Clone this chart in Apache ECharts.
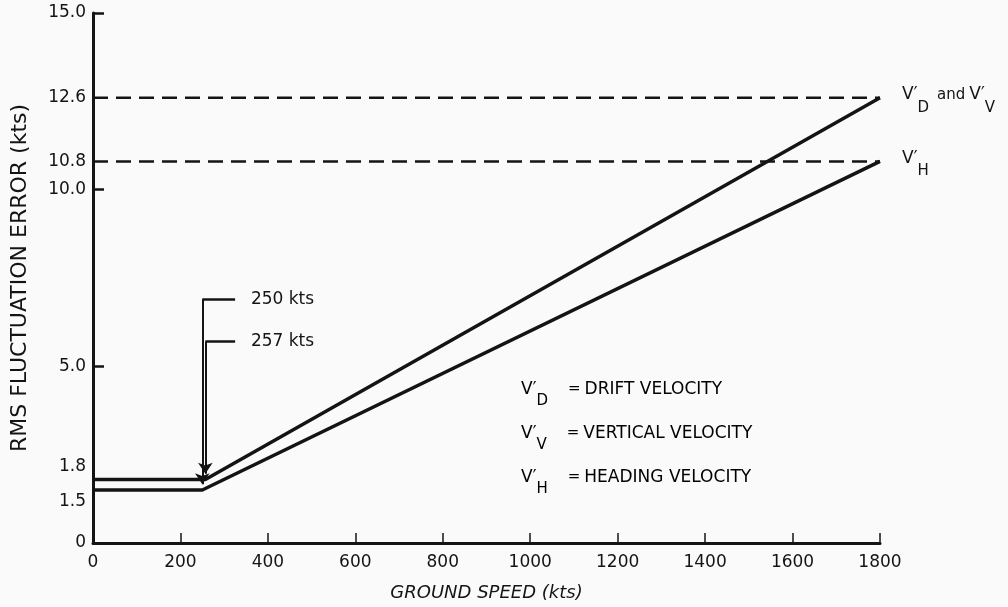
<!DOCTYPE html>
<html>
<head>
<meta charset="utf-8">
<script src="https://cdn.jsdelivr.net/npm/echarts@6/dist/echarts.min.js"></script>
<style>
  html, body { margin: 0; padding: 0; background: #fafafa; }
  #chart { width: 1008px; height: 607px; }
</style>
</head>
<body>
<div id="chart"></div>
<script>
// ---- data ----
const speedVH = [0, 250, 1800];          // kts
const errorVH = [1.5, 1.5, 10.8];        // kts
const speedVD = [0, 257, 1800];
const errorVD = [1.8, 1.8, 12.6];
const limitVD = 12.6;
const limitVH = 10.8;
const yLabelValues = [0, 1.5, 1.8, 5.0, 10.0, 10.8, 12.6, 15.0];
const yTickValues = [5.0, 10.0, 15.0];
const xMax = 1800;
const xStep = 200;
const breakpointLabels = ['250 kts', '257 kts'];
const breakpointSpeeds = [250, 257];
const breakpointErrors = [1.5, 1.8];
const bracketHeights = [6.9, 5.7];
const bracketArmEnd = 325;
const legendLines = [
  ['D', 'DRIFT VELOCITY'],
  ['V', 'VERTICAL VELOCITY'],
  ['H', 'HEADING VELOCITY']
];

const FONT = 'DejaVu Sans';
const INK = '#141414';

const pairs = (xs, ys) => xs.map((x, i) => [x, ys[i]]);

const armData = breakpointSpeeds.map((s, i) => ({
  coords: [[bracketArmEnd, bracketHeights[i]], [s, bracketHeights[i]]]
}));
const arrowData = breakpointSpeeds.map((s, i) => ({
  coords: [[s, bracketHeights[i]], [s, breakpointErrors[i] + 0.16]]
}));
const labelData = breakpointSpeeds.map((s, i) => [bracketArmEnd + 35, bracketHeights[i], breakpointLabels[i]]);

const endRich = {
  v: { fontFamily: FONT, fontSize: 17, color: INK },
  s: { fontFamily: FONT, fontSize: 15, color: INK, padding: [26, 0, 0, 0] },
  a: { fontFamily: FONT, fontSize: 15, color: INK, padding: [0, 4, 0, 8] }
};
const legendRich = {
  v: { fontFamily: FONT, fontSize: 17, color: INK },
  s: { fontFamily: FONT, fontSize: 15, color: INK, padding: [24, 0, 0, 0] },
  e: { fontFamily: FONT, fontSize: 15, color: INK, padding: [0, 4, 0, 20] },
  t: { fontFamily: FONT, fontSize: 17, color: INK }
};

const chart = echarts.init(document.getElementById('chart'));
chart.setOption({
  backgroundColor: '#fafafa',
  animation: false,
  grid: { left: 93, right: 128, top: 13, bottom: 64, outerBoundsMode: 'none' },
  xAxis: {
    type: 'value', min: 0, max: xMax, interval: xStep,
    name: 'GROUND SPEED (kts)', nameLocation: 'middle', nameGap: 41,
    nameTextStyle: { fontFamily: FONT, fontSize: 18, fontStyle: 'italic', color: INK },
    axisLine: { show: true, lineStyle: { color: INK, width: 3 } },
    axisTick: { show: true, inside: true, length: 10, lineStyle: { color: INK, width: 1.5 } },
    axisLabel: { fontFamily: FONT, fontSize: 17, color: INK, margin: 11, formatter: v => String(v) },
    splitLine: { show: false }
  },
  yAxis: {
    type: 'value', min: 0, max: 15,
    name: 'RMS FLUCTUATION ERROR (kts)', nameLocation: 'middle', nameGap: 62, nameRotate: 90,
    nameTextStyle: { fontFamily: FONT, fontSize: 22, color: INK },
    axisLine: { show: true, lineStyle: { color: INK, width: 3 } },
    axisTick: { show: true, inside: true, length: 11, customValues: yTickValues, lineStyle: { color: INK, width: 2.5 } },
    axisLabel: {
      customValues: yLabelValues,
      fontFamily: FONT, fontSize: 17, color: INK, margin: 7,
      formatter: v => {
        if (v === 0) return '0';
        if (v === 1.5) return '{lo|1.5}';
        if (v === 1.8) return '{hi|1.8}';
        return v.toFixed(1);
      },
      rich: {
        lo: { fontFamily: FONT, fontSize: 17, color: INK, padding: [24, 0, 0, 0] },
        hi: { fontFamily: FONT, fontSize: 17, color: INK, padding: [0, 0, 26, 0] }
      }
    },
    splitLine: { show: false }
  },
  series: [
    {
      name: "V'D and V'V", type: 'line', data: pairs(speedVD, errorVD),
      symbol: 'none', lineStyle: { color: INK, width: 3.5 }, z: 3
    },
    {
      name: "V'H", type: 'line', data: pairs(speedVH, errorVH),
      symbol: 'none', lineStyle: { color: INK, width: 3.5 }, z: 3
    },
    {
      name: 'limit VD', type: 'line', data: [[0, limitVD], [xMax, limitVD]],
      symbol: 'none', lineStyle: { color: INK, width: 2.5, type: [15, 8] },
      endLabel: { show: true, distance: 22, offset: [0, -3], formatter: '{v|V′}{s|D}{a|and}{v|V′}{s|V}', rich: endRich }
    },
    {
      name: 'limit VH', type: 'line', data: [[0, limitVH], [xMax, limitVH]],
      symbol: 'none', lineStyle: { color: INK, width: 2.5, type: [15, 8] },
      endLabel: { show: true, distance: 22, offset: [0, -3], formatter: '{v|V′}{s|H}', rich: endRich }
    },
    {
      name: 'breakpoint arms', type: 'lines', coordinateSystem: 'cartesian2d',
      data: armData, symbol: 'none',
      lineStyle: { color: INK, width: 2.5, opacity: 1, curveness: 0 }, z: 4
    },
    {
      name: 'breakpoint arrows', type: 'lines', coordinateSystem: 'cartesian2d',
      data: arrowData, symbol: ['none', 'arrow'], symbolSize: [8, 11],
      lineStyle: { color: INK, width: 2, opacity: 1, curveness: 0 }, z: 4
    },
    {
      name: 'breakpoint labels', type: 'scatter', data: labelData, symbolSize: 1,
      itemStyle: { color: 'transparent', opacity: 1 },
      label: {
        show: true, position: 'right', distance: 0, opacity: 1,
        formatter: p => p.data[2], fontFamily: FONT, fontSize: 17, color: INK
      }
    }
  ],
  graphic: legendLines.map((l, i) => ({
    type: 'text', left: 521, top: 381 + i * 44,
    style: {
      text: '{v|V′}{s|' + l[0] + '}{e|=}{t|' + l[1] + '}',
      rich: legendRich
    }
  }))
});
</script>
</body>
</html>
